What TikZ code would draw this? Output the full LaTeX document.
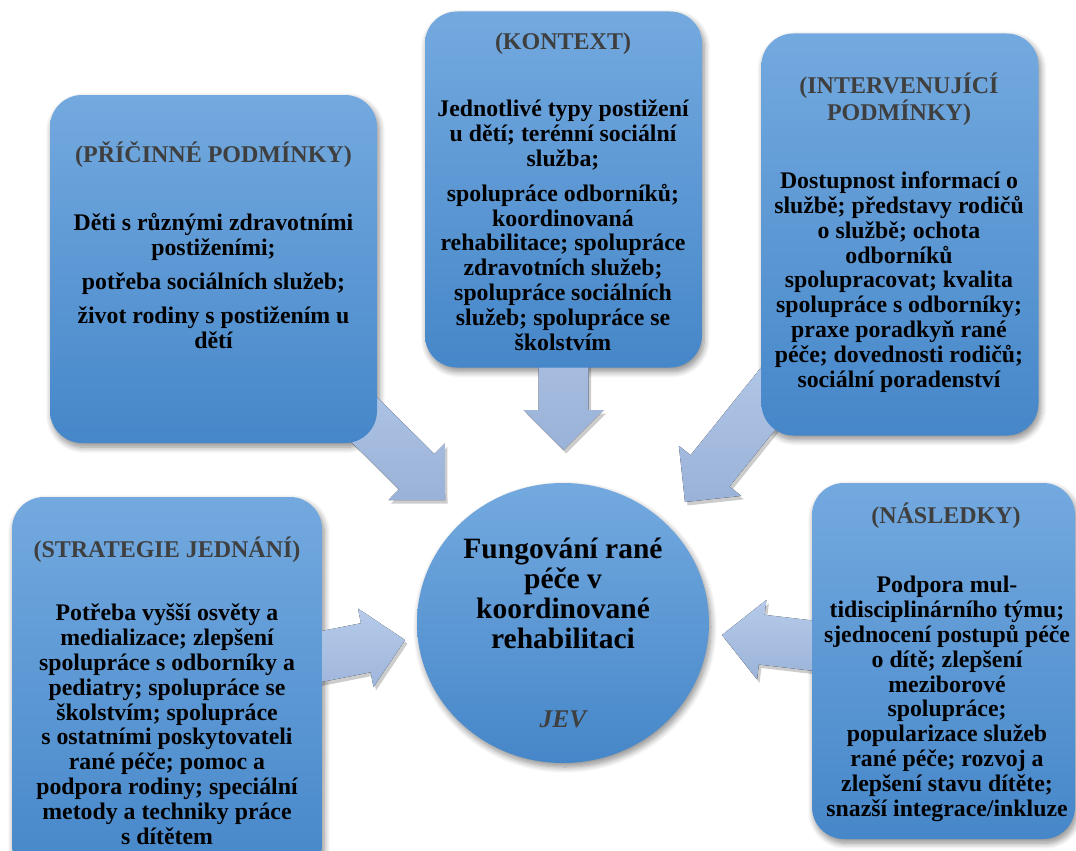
\documentclass[tikz,border=0pt]{standalone}
\usepackage{fontspec}
\setmainfont{Liberation Serif}
\usetikzlibrary{calc,shapes.geometric,shadows.blur}

\definecolor{paneltop}{HTML}{73A9DF}
\definecolor{panelbottom}{HTML}{4687C9}
\definecolor{arrowtop}{HTML}{B6CBEA}
\definecolor{arrowbottom}{HTML}{9AB2D8}
\definecolor{headgray}{HTML}{3F3F3F}

\pgfdeclarelayer{shade}
\pgfdeclarelayer{back}
\pgfsetlayers{shade,back,main}

% Block arrow from the centre of node #1 to the tip coordinate #2
\newcommand{\flowarrow}[2]{%
  \begin{scope}[x={($(#2)!1pt!(#1)-(#2)$)}, y={($(#2)!1pt!90:(#1)-(#2)$)},
                shift={($(#2)+(2.5pt,-3.5pt)$)}]
    \fill[black, opacity=0.2] (0,0) -- (40,40) -- (40,25) -- (200,25)
      -- (200,-25) -- (40,-25) -- (40,-40) -- cycle;
  \end{scope}
  \begin{scope}[x={($(#2)!1pt!(#1)-(#2)$)}, y={($(#2)!1pt!90:(#1)-(#2)$)},
                shift={(#2)}]
    \fill[top color=arrowtop, bottom color=arrowbottom] (0,0) -- (40,40)
      -- (40,25) -- (200,25) -- (200,-25) -- (40,-25) -- (40,-40) -- cycle;
  \end{scope}}

\tikzset{
  softshadow/.style={blur shadow={shadow xshift=2pt, shadow yshift=-4pt,
      shadow blur radius=6pt, shadow blur steps=8, shadow opacity=45}},
  panel/.style={rounded corners=32pt, top color=paneltop, bottom color=panelbottom,
    inner sep=0pt},
  hub/.style={ellipse, top color=paneltop, bottom color=panelbottom, inner sep=0pt},
  headtext/.style={font=\fontsize{24}{23}\selectfont\bfseries, text=headgray,
    align=center, inner sep=0pt, anchor=base},
  bodytext/.style={font=\fontsize{23.8}{24.8}\selectfont\bfseries, text=black,
    align=center, inner sep=0pt, anchor=base},
  hubtext/.style={font=\fontsize{29.5}{30}\selectfont\bfseries, text=black,
    align=center, inner sep=0pt, anchor=base},
}

\begin{document}
\begin{tikzpicture}[x=1pt, y=-1pt]
\useasboundingbox (0,0) rectangle (1076,851);

% panels
\node[panel, minimum width=327pt, minimum height=348pt] (cause) at (213.5,269) {};
\node[panel, minimum width=277pt, minimum height=356pt] (context) at (563.5,189.5) {};
\node[panel, minimum width=277pt, minimum height=402pt] (inter) at (900,234.5) {};
\node[panel, minimum width=310pt, minimum height=380pt] (strategy) at (167,687) {};
\node[panel, minimum width=263pt, minimum height=356pt] (outcome) at (943.5,661) {};

% central phenomenon
\node[hub, minimum width=292pt, minimum height=280pt] (jev) at (563,623) {};

% shadows under panels and hub
\begin{pgfonlayer}{shade}
  \foreach \p in {cause,context,inter,strategy,outcome}
    \path[rounded corners=32pt, softshadow] (\p.south west) rectangle (\p.north east);
  \path[softshadow] (jev.center) ellipse [x radius=146, y radius=140];
\end{pgfonlayer}

% arrow tips
\coordinate (t1) at (445,500);
\coordinate (t2) at (563.5,450);
\coordinate (t3) at (685,502);
\coordinate (t4) at (405,640);
\coordinate (t5) at (722,635);

\begin{pgfonlayer}{back}
  \flowarrow{cause}{t1}
  \flowarrow{context}{t2}
  \flowarrow{inter}{t3}
  \flowarrow{strategy}{t4}
  \flowarrow{outcome}{t5}
\end{pgfonlayer}

% texts
\node[headtext] (causeh) at (213.5,162) {(PŘÍČINNÉ PODMÍNKY)};
\node[bodytext] (causeb) at (213.5,348) {Děti s různými zdravotními\\ postiženími;\\[9pt]
  potřeba sociálních služeb;\\[9pt] život rodiny s postižením u\\ dětí};

\node[headtext] (contexth) at (563,50) {(KONTEXT)};
\node[bodytext] (contextb) at (563,350) {Jednotlivé typy postižení\\ u dětí; terénní sociální\\
  služba;\\[10pt] spolupráce odborníků;\\ koordinovaná\\ rehabilitace; spolupráce\\
  zdravotních služeb;\\ spolupráce sociálních\\ služeb; spolupráce se\\ školstvím};

\node[headtext] (interh) at (899,120) {(INTERVENUJÍCÍ\\ PODMÍNKY)};
\node[bodytext] (interb) at (899,387) {Dostupnost informací o\\ službě; představy rodičů\\
  o službě; ochota\\ odborníků\\ spolupracovat; kvalita\\ spolupráce s odborníky;\\
  praxe poradkyň rané\\ péče; dovednosti rodičů;\\ sociální poradenství};

\node[headtext] (strategyh) at (167,557) {(STRATEGIE JEDNÁNÍ)};
\node[bodytext] (strategyb) at (167,844) {Potřeba vyšší osvěty a\\ medializace; zlepšení\\
  spolupráce s odborníky a\\ pediatry; spolupráce se\\ školstvím; spolupráce\\
  s ostatními poskytovateli\\ rané péče; pomoc a\\ podpora rodiny; speciální\\
  metody a techniky práce\\ s dítětem};

\node[headtext] (outcomeh) at (946,523) {(NÁSLEDKY)};
\node[bodytext] (outcomeb) at (947,816) {Podpora mul-\\ tidisciplinárního týmu;\\
  sjednocení postupů péče\\ o dítě; zlepšení\\ meziborové\\ spolupráce;\\
  popularizace služeb\\ rané péče; rozvoj a\\ zlepšení stavu dítěte;\\
  snazší integrace/inkluze};

\node[hubtext] (jevt) at (563,648) {Fungování rané\\ péče v\\ koordinované\\ rehabilitaci};
\node[hubtext, font=\fontsize{25.5}{26}\selectfont\bfseries\itshape, text=headgray]
  (jevl) at (563,727) {JEV};
\end{tikzpicture}
\end{document}
